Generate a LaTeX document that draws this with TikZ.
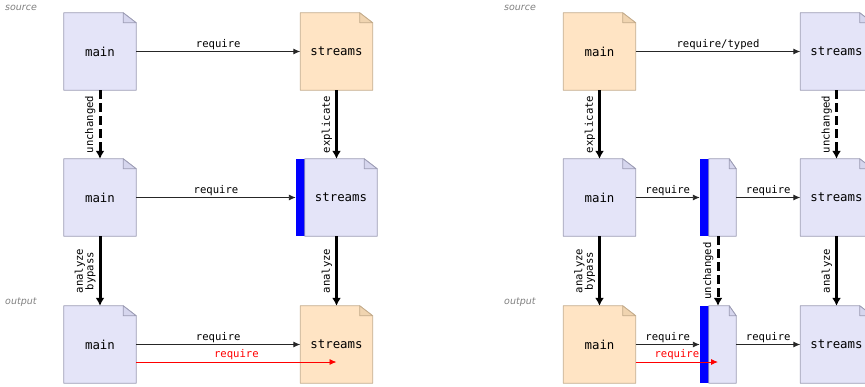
\documentclass[tikz,border=0pt]{standalone}
\usepackage{fontspec}
\setmonofont{DejaVu Sans Mono}
\setsansfont{DejaVu Sans}
\usetikzlibrary{arrows.meta,backgrounds}
\definecolor{lav}{HTML}{E4E4F8}
\definecolor{lavline}{HTML}{9C9CB4}
\definecolor{lavflap}{HTML}{D6D6EE}
\definecolor{org}{HTML}{FFE4C4}
\definecolor{orgline}{HTML}{C4AC8C}
\definecolor{orgflap}{HTML}{F0D4B0}
\definecolor{barblue}{HTML}{0000FF}
\newcommand\mkdoc[5]{%
  \begin{scope}[on background layer]
    \filldraw[fill=#2,draw=#3,line width=0.8pt,line join=round]
      (#1.south west) -- (#1.north west) -- ([xshift=-#5]#1.north east)
      -- ([yshift=-10pt]#1.north east) -- (#1.south east) -- cycle;
    \filldraw[fill=#4,draw=#3,line width=0.8pt,line join=round]
      ([xshift=-#5]#1.north east) -- ([xshift=-#5,yshift=-10pt]#1.north east)
      -- ([yshift=-10pt]#1.north east) -- cycle;
  \end{scope}}
\newcommand\mkbardoc[2]{%
  \begin{scope}[on background layer]
    \fill[barblue] (#1.south west) rectangle ([xshift=9pt]#1.north west);
    \filldraw[fill=lav,draw=lavline,line width=0.8pt,line join=round]
      ([xshift=9pt]#1.south west) -- ([xshift=9pt]#1.north west) -- ([xshift=-#2]#1.north east)
      -- ([yshift=-10pt]#1.north east) -- (#1.south east) -- cycle;
    \filldraw[fill=lavflap,draw=lavline,line width=0.8pt,line join=round]
      ([xshift=-#2]#1.north east) -- ([xshift=-#2,yshift=-10pt]#1.north east)
      -- ([yshift=-10pt]#1.north east) -- cycle;
  \end{scope}}
\begin{document}
\begin{tikzpicture}[x=1pt,y=-1pt,
  doc/.style={minimum width=72pt,minimum height=77pt,inner sep=0pt,
    font=\ttfamily\fontsize{12.4}{14}\selectfont},
  lab/.style={font=\ttfamily\fontsize{10.6}{10.6}\selectfont,inner sep=1.5pt},
  vlab/.style={font=\ttfamily\fontsize{10.6}{10.4}\selectfont,inner sep=3pt,
    midway,rotate=90,anchor=south,align=center},
  thinarr/.style={-{Latex[length=7pt,width=6pt]},line width=0.9pt,draw=black!85},
  thickarr/.style={-{Latex[length=8pt,width=9pt]},line width=3pt},
  dasharr/.style={thickarr,dash pattern=on 9pt off 4pt},
  tag/.style={anchor=west,inner sep=0pt,text=gray,
    font=\sffamily\itshape\fontsize{9.5}{10}\selectfont}]
\useasboundingbox (0,0) rectangle (865,386);
% ---- left diagram ----
\node[tag] (src1) at (5,8) {source};
\node[tag] (out1) at (5,302) {output};
\node[doc] (m1) at (100,51.5) {main};
\node[doc] (s1) at (336.5,51.5) {streams};
\node[doc] (m2) at (100,197.5) {main};
\node[doc,minimum width=81pt] (s2) at (336.5,197.5) {\hspace*{9pt}streams};
\node[doc] (m3) at (100,344.5) {main};
\node[doc] (s3) at (336.5,344.5) {streams};
\mkdoc{m1}{lav}{lavline}{lavflap}{13pt}
\mkdoc{s1}{org}{orgline}{orgflap}{13pt}
\mkdoc{m2}{lav}{lavline}{lavflap}{13pt}
\mkbardoc{s2}{13pt}
\mkdoc{m3}{lav}{lavline}{lavflap}{13pt}
\mkdoc{s3}{org}{orgline}{orgflap}{13pt}
\draw[thinarr] (m1.east) -- node[above,lab]{require} (s1.west);
\draw[thinarr] (m2.east) -- node[above,lab]{require} (s2.west);
\draw[thinarr] (m3.east) -- node[above,lab]{require} (s3.west);
\path (m3.east) ++(0,17.5) coordinate (r1);
\draw[thinarr,red] (r1) -- node[above,lab,text=red]{require} (s3.center |- r1);
\draw[dasharr] (m1.south) -- node[vlab]{unchanged} (m2.north);
\draw[thickarr] (s1.south) -- node[vlab]{explicate} (s2.north);
\draw[thickarr] (m2.south) -- node[vlab]{analyze\\bypass} (m3.north);
\draw[thickarr] (s2.south) -- node[vlab]{analyze} (s3.north);
% ---- right diagram ----
\node[tag] (src2) at (504,8) {source};
\node[tag] (out2) at (504,302) {output};
\node[doc] (M1) at (599.5,51.5) {main};
\node[doc] (S1) at (836.5,51.5) {streams};
\node[doc] (M2) at (599.5,197.5) {main};
\node[doc,minimum width=36pt] (N2) at (718,197.5) {};
\node[doc] (S2) at (836.5,197.5) {streams};
\node[doc] (M3) at (599.5,344.5) {main};
\node[doc,minimum width=36pt] (N3) at (718,344.5) {};
\node[doc] (S3) at (836.5,344.5) {streams};
\mkdoc{M1}{org}{orgline}{orgflap}{13pt}
\mkdoc{S1}{lav}{lavline}{lavflap}{13pt}
\mkdoc{M2}{lav}{lavline}{lavflap}{13pt}
\mkbardoc{N2}{7pt}
\mkdoc{S2}{lav}{lavline}{lavflap}{13pt}
\mkdoc{M3}{org}{orgline}{orgflap}{13pt}
\mkbardoc{N3}{7pt}
\mkdoc{S3}{lav}{lavline}{lavflap}{13pt}
\draw[thinarr] (M1.east) -- node[above,lab]{require/typed} (S1.west);
\draw[thinarr] (M2.east) -- node[above,lab]{require} (N2.west);
\draw[thinarr] (N2.east) -- node[above,lab]{require} (S2.west);
\draw[thinarr] (M3.east) -- node[above,lab]{require} (N3.west);
\draw[thinarr] (N3.east) -- node[above,lab]{require} (S3.west);
\path (M3.east) ++(0,17.5) coordinate (r2);
\draw[thinarr,red] (r2) -- node[above,lab,text=red]{require} (N3.center |- r2);
\draw[thickarr] (M1.south) -- node[vlab]{explicate} (M2.north);
\draw[dasharr] (S1.south) -- node[vlab]{unchanged} (S2.north);
\draw[thickarr] (M2.south) -- node[vlab]{analyze\\bypass} (M3.north);
\draw[dasharr] (N2.south) -- node[vlab]{unchanged} (N3.north);
\draw[thickarr] (S2.south) -- node[vlab]{analyze} (S3.north);
\end{tikzpicture}
\end{document}
